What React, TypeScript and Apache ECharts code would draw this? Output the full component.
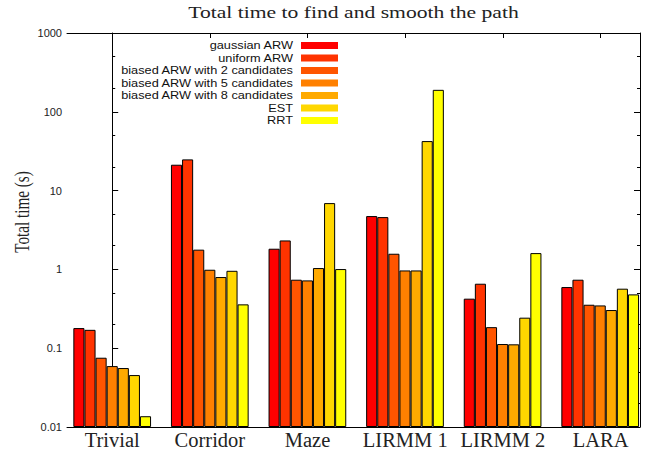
import React, { useEffect, useRef } from "react";
import * as echarts from "echarts";

const categories = ["Trivial", "Corridor", "Maze", "LIRMM 1", "LIRMM 2", "LARA"];
const seriesNames = [
  "gaussian ARW",
  "uniform ARW",
  "biased ARW with 2 candidates",
  "biased ARW with 5 candidates",
  "biased ARW with 8 candidates",
  "EST",
  "RRT",
];
const gaussianARW = [0.18, 21.3, 1.83, 4.75, 0.425, 0.597];
const uniformARW = [0.171, 24.9, 2.33, 4.61, 0.658, 0.74];
const biased2 = [0.0757, 1.78, 0.74, 1.58, 0.185, 0.356];
const biased5 = [0.0593, 0.99, 0.725, 0.97, 0.113, 0.349];
const biased8 = [0.056, 0.8, 1.04, 0.97, 0.112, 0.305];
const est = [0.0456, 0.96, 6.94, 42.5, 0.244, 0.569];
const rrt = [0.0137, 0.36, 1.01, 190, 1.61, 0.482];
const seriesValues = [gaussianARW, uniformARW, biased2, biased5, biased8, est, rrt];
const colors = ["#ff0000", "#ff3300", "#ff5500", "#ff8000", "#ffaa00", "#ffd700", "#ffff00"];
const majorTicks = [0.01, 0.1, 1, 10, 100, 1000];
const minorTicks = [0.02, 0.05, 0.2, 0.5, 2, 5, 20, 50, 200, 500];
const catTicks = [0, 1, 2, 3, 4, 5];
const titleText = "Total time to find and smooth the path";
const yTitleText = "Total time (s)";

const SERIF = "'Liberation Serif', 'Times New Roman', serif";
const SANS = "'Liberation Sans', Arial, sans-serif";

export default function App() {
  const ref = useRef<HTMLDivElement>(null);
  useEffect(() => {
    if (!ref.current) return;
    const chart = echarts.init(ref.current, null, { renderer: "svg" });
    const xMin = -0.463;
    const xMax = 5.404;
    const yFrame = (pos: string, ticks: number[], len: number, labels: boolean, line: boolean) => ({
      gridIndex: 0,
      type: "log",
      logBase: 10,
      position: pos,
      min: 0.01,
      max: 1000,
      axisLine: { show: line, lineStyle: { color: "#000", width: 1 } },
      axisTick: { show: true, inside: true, length: len, customValues: ticks, lineStyle: { color: "#000" } },
      axisLabel: labels
        ? {
            show: true,
            customValues: ticks,
            fontFamily: SANS,
            fontSize: 11,
            color: "#222",
            margin: 5,
            formatter: (v: number) => String(v),
          }
        : { show: false },
      splitLine: { show: false },
      minorTick: { show: false },
    });
    const legendEls: any[] = [];
    seriesNames.forEach((n, i) => {
      const cy = 45.5 + i * 12.5;
      legendEls.push({
        type: "text",
        x: 293,
        y: cy,
        scaleX: 1.25,
        style: { text: n, fontFamily: SANS, fontSize: 10.2, fill: "#111", align: "right", verticalAlign: "middle" },
      });
      legendEls.push({
        type: "rect",
        shape: { x: 301, y: cy - 3.5, width: 37, height: 7 },
        style: { fill: colors[i] },
      });
    });
    chart.setOption({
      animation: false,
      backgroundColor: "#fff",
      grid: [
        { left: 67, right: 9, top: 33, bottom: 24, containLabel: false },
        { left: 63.4, right: -0.4, top: 33, bottom: 24, containLabel: false },
      ],
      xAxis: [
        {
          gridIndex: 0,
          type: "value",
          position: "bottom",
          min: xMin,
          max: xMax,
          axisLine: { show: true, lineStyle: { color: "#000", width: 1 } },
          axisTick: { show: true, inside: true, length: 5, customValues: catTicks, lineStyle: { color: "#000" } },
          axisLabel: {
            show: true,
            customValues: catTicks,
            formatter: (v: number) => categories[Math.round(v)],
            fontFamily: SERIF,
            fontSize: 20.5,
            color: "#222",
            margin: 2,
          },
          splitLine: { show: false },
        },
        {
          gridIndex: 0,
          type: "value",
          position: "top",
          min: xMin,
          max: xMax,
          axisLine: { show: true, lineStyle: { color: "#000", width: 1 } },
          axisTick: { show: true, inside: true, length: 5, customValues: catTicks, lineStyle: { color: "#000" } },
          axisLabel: { show: false },
          splitLine: { show: false },
        },
        {
          gridIndex: 1,
          type: "category",
          data: categories,
          boundaryGap: true,
          show: false,
        },
      ],
      yAxis: [
        yFrame("left", majorTicks, 6, true, true),
        yFrame("left", minorTicks, 3, false, false),
        yFrame("right", majorTicks, 6, false, true),
        yFrame("right", minorTicks, 3, false, false),
        {
          gridIndex: 1,
          type: "log",
          logBase: 10,
          min: 0.01,
          max: 1000,
          startValue: 0.01,
          show: false,
        },
      ],
      series: seriesNames.map((name, i) => ({
        type: "bar",
        name,
        xAxisIndex: 2,
        yAxisIndex: 4,
        barWidth: 11.1,
        barGap: "0%",
        data: seriesValues[i],
        itemStyle: { color: colors[i], borderColor: "#000", borderWidth: 1 },
      })),
      graphic: [
        {
          type: "text",
          x: 353.5,
          y: 12,
          scaleX: 1.25,
          style: {
            text: titleText,
            fontFamily: SERIF,
            fontSize: 17.3,
            fill: "#222",
            align: "center",
            verticalAlign: "middle",
          },
        },
        {
          type: "text",
          x: 22,
          y: 212,
          rotation: Math.PI / 2,
          scaleX: 0.74,
          style: {
            text: yTitleText,
            fontFamily: SERIF,
            fontSize: 20.5,
            fill: "#222",
            align: "center",
            verticalAlign: "middle",
          },
        },
        ...legendEls,
      ],
    });
    return () => chart.dispose();
  }, []);
  return <div ref={ref} style={{ width: 649, height: 451, position: "absolute", left: 0, top: 0 }} />;
}
